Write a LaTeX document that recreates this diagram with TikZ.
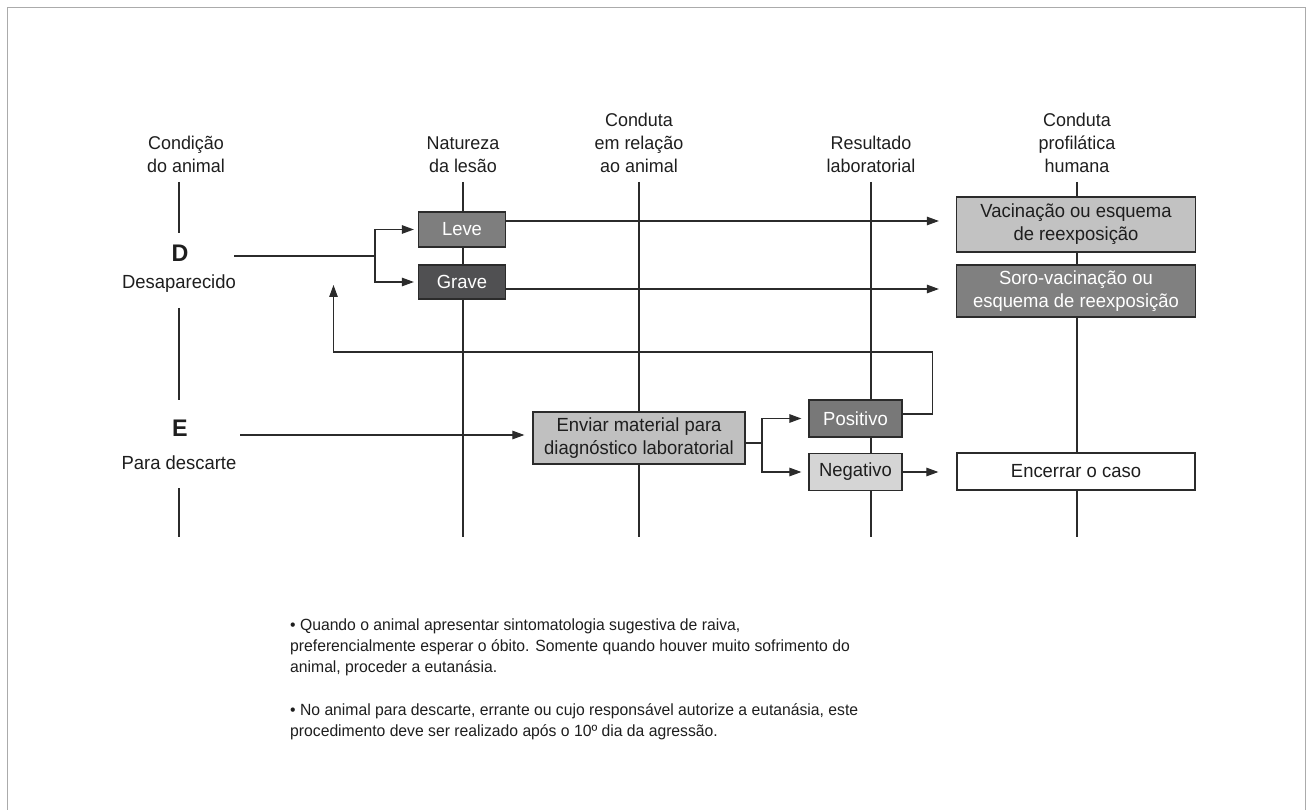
\documentclass[tikz,border=0pt]{standalone}
\usepackage{fontspec}
\setmainfont{Liberation Sans}[FakeStretch=0.97]
\usetikzlibrary{arrows.meta}
\definecolor{linecol}{HTML}{2B2B2B}
\definecolor{framecol}{HTML}{ABABAB}
\definecolor{txtcol}{HTML}{1E1E1E}
\definecolor{levecol}{HTML}{7E7E7E}
\definecolor{gravecol}{HTML}{505052}
\definecolor{vaccol}{HTML}{C2C2C2}
\definecolor{sorocol}{HTML}{808080}
\definecolor{envcol}{HTML}{C0C0C0}
\definecolor{poscol}{HTML}{787878}
\definecolor{negcol}{HTML}{D5D5D5}
\newcommand\boxfont{\fontsize{19}{23}\selectfont}
\newcommand\hdrfont{\fontsize{18.5}{23}\selectfont}
\newcommand\notefont{\fontsize{16.2}{21}\selectfont}
\begin{document}
\begin{tikzpicture}[x=1pt,y=-1pt,
  line/.style={draw=linecol, line width=1.1pt},
  arr/.style={line, -{Triangle[length=12pt,width=8.5pt]}},
  box/.style={draw=linecol, line width=1.2pt, inner sep=0pt, align=center,
              font=\boxfont, text=txtcol},
  wbox/.style={box, text=white},
  hdr/.style={align=center, font=\hdrfont, inner sep=0pt, text=txtcol, anchor=south},
  lbl/.style={font=\boxfont, inner sep=0pt, text=txtcol},
  big/.style={font=\fontsize{24}{28}\selectfont\bfseries, inner sep=0pt, text=txtcol},
  note/.style={anchor=north west, align=left, font=\notefont, inner sep=0pt, text=txtcol}
]
\useasboundingbox (0,0) rectangle (1307,810);
% page frame
\draw[framecol, line width=1.6pt] (7.5,815) -- (7.5,7.5) -- (1305.5,7.5) -- (1305.5,815);

% column headings
\node[hdr] (h1) at (186,173) {Condição\\do animal};
\node[hdr] (h2) at (463,173) {Natureza\\da lesão};
\node[hdr] (h3) at (639,173) {Conduta\\em relação\\ao animal};
\node[hdr] (h4) at (871,173) {Resultado\\laboratorial};
\node[hdr] (h5) at (1077,173) {Conduta\\profilática\\humana};

% column rules
\foreach \n/\x in {2/463,3/639,4/871,5/1077}{
  \coordinate (t\n) at (\x,182);
  \coordinate (e\n) at (\x,537);
  \draw[line] (t\n) -- (e\n);
}
\coordinate (c1a) at (179,182); \coordinate (c1b) at (179,233);
\coordinate (c1c) at (179,308); \coordinate (c1d) at (179,400);
\coordinate (c1e) at (179,488); \coordinate (c1f) at (179,537);
\draw[line] (c1a) -- (c1b);
\draw[line] (c1c) -- (c1d);
\draw[line] (c1e) -- (c1f);

% animal condition labels
\node[big] (D) at (180,253) {D};
\node[lbl] (des) at (179,284) {Desaparecido};
\node[big] (E) at (180,428) {E};
\node[lbl] (pd) at (179,463) {Para descarte};

% boxes
\node[wbox, fill=levecol, minimum width=87pt, minimum height=35pt] (leve) at (462,229.5) {Leve};
\node[wbox, fill=gravecol, minimum width=87pt, minimum height=34pt] (grave) at (462,282) {Grave};
\node[box, fill=vaccol, minimum width=239pt, minimum height=55pt] (vac) at (1076,224.5) {Vacinação ou esquema\\de reexposição};
\node[wbox, fill=sorocol, minimum width=239pt, minimum height=52pt] (soro) at (1076,291) {Soro-vacinação ou\\esquema de reexposição};
\node[box, fill=envcol, minimum width=212pt, minimum height=52pt] (env) at (639,438) {Enviar material para\\diagnóstico laboratorial};
\node[wbox, fill=poscol, minimum width=93pt, minimum height=37pt] (pos) at (855.5,418.5) {Positivo};
\node[box, fill=negcol, minimum width=93pt, minimum height=37pt] (neg) at (855.5,472) {Negativo};
\node[box, fill=white, minimum width=238pt, minimum height=37pt] (enc) at (1076,471.5) {Encerrar o caso};

% D branch
\coordinate (dstart) at (234,256);
\coordinate (dsplit) at (375,256);
\draw[line] (dstart) -- (dsplit);
\draw[arr, shorten >=4pt] (dsplit) |- (leve.west);
\draw[arr, shorten >=4pt] (dsplit) |- (grave.west);

% lesion to prophylaxis
\coordinate (lvy) at (0,221);
\coordinate (gry) at (0,289);
\draw[arr, shorten >=17pt] (leve.east |- lvy) -- (vac.west |- lvy);
\draw[arr, shorten >=17pt] (grave.east |- gry) -- (soro.west |- gry);

% E branch
\coordinate (estart) at (240,435);
\draw[arr, shorten >=8pt] (estart) -- (env.west |- estart);
\coordinate (esplit) at (762,443);
\draw[line] (env.east |- esplit) -- (esplit);
\draw[arr, shorten >=7pt] (esplit) |- (pos.west);
\draw[arr, shorten >=7pt] (esplit) |- (neg.west);
\draw[arr, shorten >=18pt] (neg.east) -- (enc.west |- neg.east);

% positive result loops back
\coordinate (fby) at (0,414);
\coordinate (fbr) at (932.5,352);
\coordinate (fbtip) at (333.5,285);
\draw[arr] (pos.east |- fby) -| (fbr) -| (fbtip);

% notes
\node[note] (n1) at (290,619) {• Quando o animal apresentar sintomatologia sugestiva de raiva,\\preferencialmente esperar o óbito. Somente quando houver muito sofrimento do\\animal, proceder a eutanásia.};
\node[note] (n2) at (290,703) {• No animal para descarte, errante ou cujo responsável autorize a eutanásia, este\\procedimento deve ser realizado após o 10º dia da agressão.};
\end{tikzpicture}
\end{document}
